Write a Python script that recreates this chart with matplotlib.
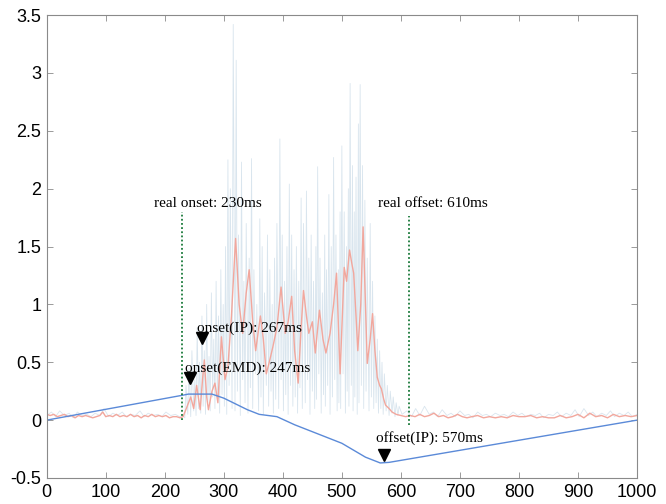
import numpy as np
import matplotlib
matplotlib.use("Agg")
import matplotlib.pyplot as plt

# raw signal: spike peaks and the troughs between them (ms, amplitude)
base1_t = [0, 8, 15, 22, 30, 38, 45, 52, 60, 68, 75, 82, 90, 97, 105, 112, 120, 128, 135, 142,
           150, 158, 165, 172, 180, 188, 195, 202, 210, 218, 225, 231]
base1_v = [0.04, 0.07, 0.03, 0.08, 0.04, 0.06, 0.02, 0.07, 0.04, 0.05, 0.03, 0.06, 0.04, 0.10,
           0.03, 0.06, 0.04, 0.07, 0.03, 0.05, 0.04, 0.08, 0.03, 0.06, 0.04, 0.05, 0.03, 0.07,
           0.04, 0.05, 0.03, 0.04]
spike_t = [236, 241, 246, 251, 255, 259, 263, 267, 271, 275, 279, 283, 287, 291, 295, 299,
           303, 307, 311, 316, 321, 325, 330, 334, 338, 343, 347, 351, 356, 361, 365, 369,
           374, 378, 382, 386, 390, 395, 399, 403, 407, 411, 415, 419, 423, 427, 431, 435,
           440, 444, 448, 452, 456, 459, 463, 467, 471, 474, 478, 482, 486, 490, 494, 497,
           500, 504, 508, 511, 514, 518, 521, 524, 528, 531, 535, 539, 543, 548, 552, 556,
           560, 564, 568, 572, 577, 582, 587, 592, 597]
spike_v = [0.30, 0.45, 0.60, 0.35, 0.80, 0.50, 0.90, 0.60, 1.00, 0.55, 1.10, 0.70, 1.20, 0.90,
           1.30, 1.00, 1.50, 2.25, 2.00, 3.42, 3.11, 1.60, 2.23, 1.20, 1.70, 1.40, 2.26, 1.30,
           1.00, 1.74, 1.50, 1.10, 1.60, 1.30, 1.00, 1.40, 1.70, 2.43, 1.60, 1.20, 1.50, 2.04,
           1.60, 1.30, 1.50, 1.20, 1.92, 1.70, 1.98, 1.40, 1.60, 1.20, 1.50, 2.19, 1.40, 1.10,
           1.60, 1.30, 1.95, 1.50, 2.27, 1.60, 1.30, 1.80, 2.37, 1.80, 1.50, 2.00, 2.91, 2.20,
           1.80, 2.10, 2.56, 2.90, 2.20, 1.90, 1.40, 1.70, 1.20, 0.90, 0.70, 0.60, 0.50, 0.40,
           0.30, 0.25, 0.20, 0.15, 0.12]
trough_v = [0.02, 0.05, 0.03, 0.08, 0.04, 0.10, 0.06, 0.12, 0.05, 0.15, 0.08, 0.20, 0.10, 0.18,
            0.06, 0.22, 0.12, 0.05, 0.30, 0.10, 0.08, 0.25, 0.04, 0.35, 0.15, 0.06, 0.28, 0.10,
            0.40, 0.08, 0.20, 0.05, 0.30, 0.12, 0.25, 0.06, 0.18, 0.10, 0.35, 0.08, 0.22, 0.05,
            0.30, 0.12, 0.20, 0.06, 0.28, 0.10, 0.15, 0.35, 0.05, 0.25, 0.10, 0.18, 0.40, 0.06,
            0.22, 0.12, 0.30, 0.05, 0.20, 0.35, 0.08, 0.15, 0.10, 0.40, 0.06, 0.25, 0.12, 0.30,
            0.08, 0.20, 0.05, 0.15, 0.30, 0.10, 0.25, 0.08, 0.20, 0.10, 0.15, 0.06, 0.10, 0.05,
            0.08, 0.04, 0.06, 0.03, 0.04]
base2_t = [602, 610, 618, 625, 632, 640, 648, 655, 662, 670, 678, 685, 692, 700, 708, 715,
           722, 730, 738, 745, 752, 760, 768, 775, 782, 790, 798, 805, 812, 820, 828, 835,
           842, 850, 858, 865, 872, 880, 888, 895, 902, 910, 918, 925, 932, 940, 948, 955,
           962, 970, 978, 985, 992, 1000]
base2_v = [0.05, 0.08, 0.03, 0.10, 0.04, 0.12, 0.05, 0.07, 0.03, 0.09, 0.04, 0.06, 0.03, 0.08,
           0.04, 0.05, 0.02, 0.07, 0.04, 0.05, 0.03, 0.06, 0.04, 0.05, 0.03, 0.07, 0.04, 0.06,
           0.03, 0.05, 0.04, 0.06, 0.02, 0.05, 0.04, 0.07, 0.03, 0.06, 0.04, 0.09, 0.03, 0.10,
           0.04, 0.07, 0.03, 0.06, 0.04, 0.08, 0.03, 0.06, 0.04, 0.07, 0.03, 0.05]

# smoothed envelope (red)
env_t = [0, 6, 12, 18, 24, 30, 36, 42, 48, 54, 60, 66, 72, 78, 84, 90, 95, 100, 106, 112,
         118, 124, 130, 136, 142, 148, 154, 160, 166, 172, 178, 184, 190, 196, 202, 208,
         214, 220, 226, 231, 238, 244, 249, 254, 260, 264, 267, 271, 274, 280, 285, 290,
         296, 302, 307, 313, 320, 326, 332, 338, 343, 349, 354, 358, 362, 367, 372, 377,
         383, 390, 397, 404, 409, 415, 420, 426, 431, 435, 440, 444, 450, 455, 462, 468,
         473, 480, 486, 491, 497, 504, 508, 513, 517, 520, 524, 527, 532, 536, 540, 543,
         548, 552, 556, 560, 564, 567, 571, 574, 580, 585, 592, 600, 608, 616, 624, 632,
         640, 648, 656, 664, 672, 680, 688, 696, 704, 712, 720, 730, 740, 750, 760, 770,
         780, 790, 800, 810, 820, 830, 840, 850, 860, 870, 880, 890, 900, 910, 920, 930,
         940, 950, 960, 970, 980, 990, 1000]
env_v = [0.05, 0.04, 0.05, 0.03, 0.04, 0.05, 0.03, 0.04, 0.02, 0.04, 0.03, 0.04, 0.03, 0.02,
         0.03, 0.04, 0.07, 0.03, 0.04, 0.03, 0.05, 0.03, 0.04, 0.03, 0.05, 0.03, 0.04, 0.02,
         0.04, 0.03, 0.05, 0.03, 0.04, 0.03, 0.04, 0.02, 0.03, 0.03, 0.02, 0.03, 0.12, 0.20,
         0.10, 0.30, 0.09, 0.35, 0.52, 0.20, 0.09, 0.25, 0.32, 0.15, 0.72, 0.35, 0.46, 0.90,
         1.57, 1.00, 0.75, 1.10, 1.30, 0.85, 0.60, 0.75, 0.90, 0.70, 0.40, 0.50, 0.63, 0.80,
         1.15, 0.75, 0.85, 1.07, 0.60, 0.32, 0.80, 1.12, 0.90, 0.75, 0.85, 0.58, 0.95, 0.70,
         0.58, 0.75, 1.00, 1.27, 0.40, 1.32, 1.20, 1.47, 1.35, 1.27, 0.90, 0.60, 1.00, 1.67,
         1.00, 0.49, 0.70, 0.92, 0.60, 0.37, 0.30, 0.27, 0.18, 0.13, 0.10, 0.07, 0.05, 0.04,
         0.03, 0.04, 0.03, 0.05, 0.03, 0.04, 0.06, 0.03, 0.04, 0.02, 0.03, 0.05, 0.03, 0.02,
         0.03, 0.04, 0.02, 0.03, 0.02, 0.03, 0.02, 0.04, 0.03, 0.03, 0.04, 0.02, 0.03, 0.02,
         0.02, 0.04, 0.02, 0.03, 0.05, 0.02, 0.06, 0.03, 0.04, 0.02, 0.05, 0.03, 0.04, 0.03,
         0.04]

# IP curve (blue)
ip_t = [0, 230, 240, 280, 300, 320, 340, 360, 390, 420, 460, 500, 540, 565, 580, 1000]
ip_v = [0.0, 0.215, 0.225, 0.225, 0.19, 0.14, 0.09, 0.05, 0.03, -0.04, -0.12, -0.20, -0.32,
        -0.37, -0.365, 0.0]

real_onset, real_offset = 230, 614
markers_t = [243, 263, 571]
markers_v = [0.36, 0.71, -0.30]

# build raw trace by interleaving troughs and spikes
burst_t = []
burst_v = []
for i in range(len(spike_t)):
    burst_t += [spike_t[i] - 2, spike_t[i]]
    burst_v += [trough_v[i], spike_v[i]]
raw_t = base1_t + burst_t + base2_t
raw_v = base1_v + burst_v + base2_v

fig = plt.figure(figsize=(6.66, 5.04), dpi=100)
ax = fig.add_axes([0.0701, 0.0516, 0.8864, 0.9184])

ax.plot(raw_t, raw_v, color="#d9e5ee", lw=0.6)
ax.plot(env_t, env_v, color="#f2a79d", lw=1.0)
ax.plot(ip_t, ip_v, color="#5b8ad8", lw=1.0)

ax.plot([real_onset, real_onset], [0.0, 1.8], color="#1a7a3a", lw=1.3, ls=(0, (1, 1.3)))
ax.plot([real_offset, real_offset], [-0.04, 1.76], color="#1a7a3a", lw=1.3, ls=(0, (1, 1.3)))
ax.plot(markers_t, markers_v, "kv", ms=8)

tfont = dict(family="Liberation Serif", fontsize=11, va="baseline")
ax.text(182, 1.84, "real onset: 230ms", **tfont)
ax.text(562, 1.84, "real offset: 610ms", **tfont)
ax.text(254, 0.76, "onset(IP): 267ms", **tfont)
ax.text(234, 0.415, "onset(EMD): 247ms", **tfont)
ax.text(558, -0.19, "offset(IP): 570ms", **tfont)

ax.set_xlim(0, 1000)
ax.set_ylim(-0.5, 3.5)
ax.set_xticks(np.arange(0, 1001, 100))
ax.set_yticks(np.arange(-0.5, 3.51, 0.5))
ax.set_yticklabels(["-0.5", "0", "0.5", "1", "1.5", "2", "2.5", "3", "3.5"])
ax.tick_params(direction="in", top=True, right=True, length=4, width=0.6,
               color="#8a8a8a", labelsize=13, pad=4)
for lab in ax.get_xticklabels() + ax.get_yticklabels():
    lab.set_family("Liberation Sans")
for s in ax.spines.values():
    s.set_color("#8a8a8a")
    s.set_linewidth(0.8)

fig.savefig("out.png", dpi=100)
